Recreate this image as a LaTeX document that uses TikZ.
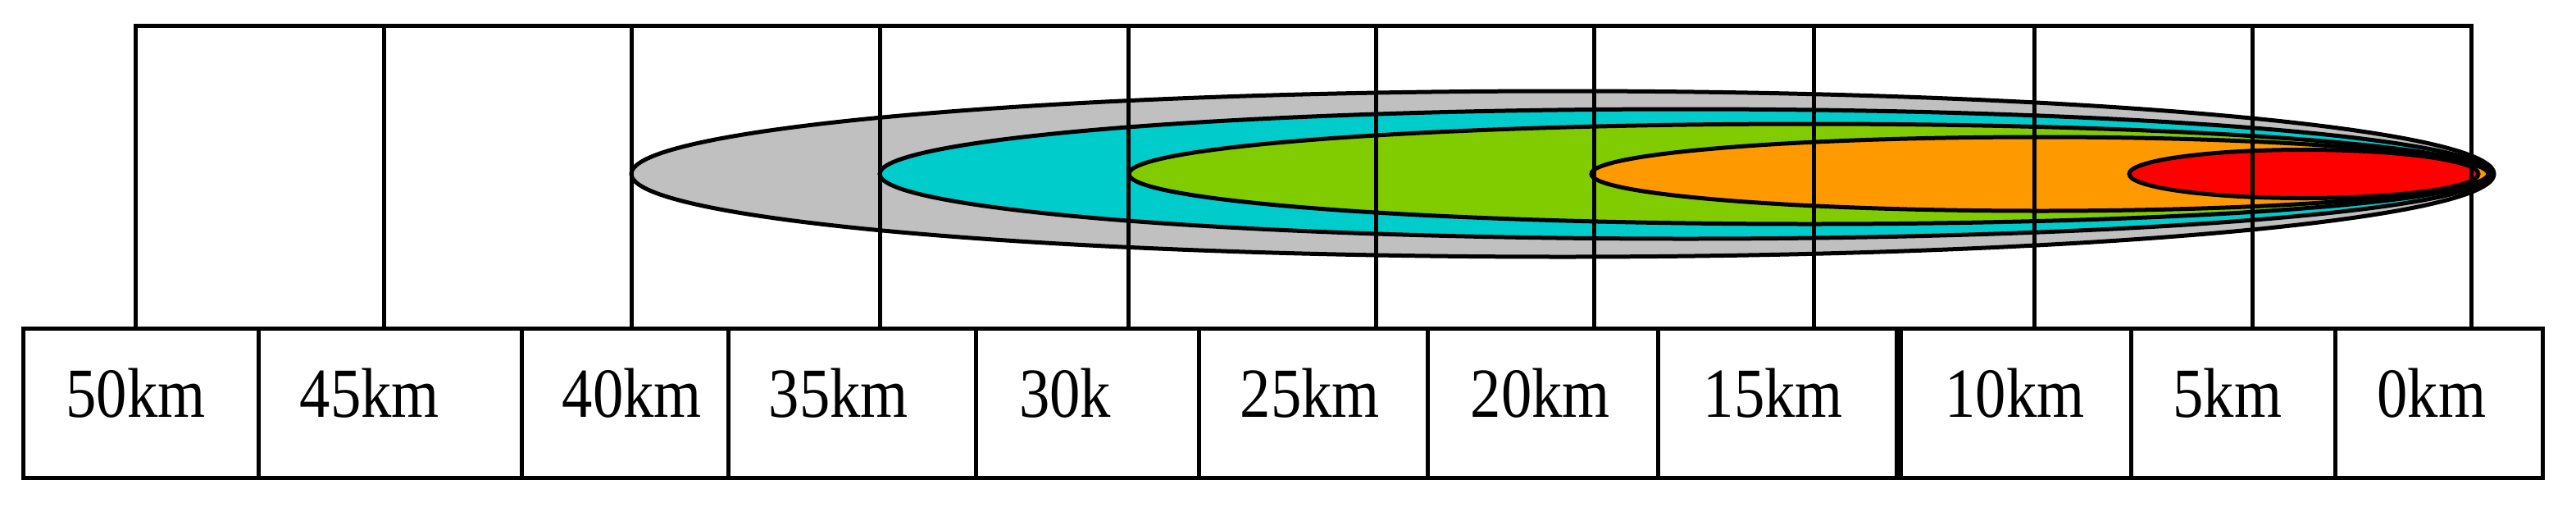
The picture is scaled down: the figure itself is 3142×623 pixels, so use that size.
\documentclass[tikz,border=0pt]{standalone}
\usepackage{fontspec}
\setmainfont{Liberation Serif}
\newcommand\kmlab[1]{\scalebox{0.87}[1]{#1}}
\definecolor{zgray}{HTML}{C0C0C0}
\definecolor{zcyan}{HTML}{00CCCC}
\definecolor{zgreen}{HTML}{80CC00}
\definecolor{zorange}{HTML}{FF9900}
\definecolor{zred}{HTML}{FF0000}
\tikzset{
  zone/.style={draw=black, line width=1.25pt},
  gridline/.style={draw=black, line width=1.25pt},
  lbl/.style={anchor=base, inner sep=0pt, font=\fontsize{21.45pt}{25pt}\selectfont},
}
\begin{document}
\begin{tikzpicture}[x=0.25pt,y=-0.25pt]
\useasboundingbox (0,0) rectangle (3142,623);
% zones
\path[zone, fill=zgray]   (1906,212) ellipse [x radius=1136, y radius=101];
\path[zone, fill=zcyan]   (2056,212) ellipse [x radius=983, y radius=79];
\path[zone, fill=zgreen]  (2207,212) ellipse [x radius=830, y radius=61];
\path[zone, fill=zorange] (2488,212) ellipse [x radius=547, y radius=45];
\path[zone, fill=zred]    (2810,212) ellipse [x radius=213, y radius=29.5];
% upper frame
\coordinate (tl) at (165.6,31);
\coordinate (tr) at (3014,31);
\draw[gridline] (165.6,400.5) -- (tl) -- (tr) -- (3014,400.5);
\foreach \x in {468.6,770.3,1073.3,1376.7,1678.4,1944.2,2212.5,2481.8,2747.7}
  \draw[gridline] (\x,31) -- (\x,400.5);
% scale box
\draw[gridline] (28.5,400.5) rectangle (3101,582.5);
\foreach \x in {315.7,636.3,888.8,1190.8,1462.3,1741.5,2022.1,2599,2848.7}
  \draw[gridline] (\x,400.5) -- (\x,582.5);
\draw[gridline, line width=2.5pt] (2316,400.5) -- (2316,582.5);
% labels
\node[lbl] (l50) at (165.5,508) {\kmlab{50km}};
\node[lbl] (l45) at (451,508) {\kmlab{45km}};
\node[lbl] (l40) at (771,508) {\kmlab{40km}};
\node[lbl] (l35) at (1023,508) {\kmlab{35km}};
\node[lbl] (l30) at (1299,508) {\kmlab{30k}};
\node[lbl] (l25) at (1598,508) {\kmlab{25km}};
\node[lbl] (l20) at (1879,508) {\kmlab{20km}};
\node[lbl] (l15) at (2163,508) {\kmlab{15km}};
\node[lbl] (l10) at (2457.6,508) {\kmlab{10km}};
\node[lbl] (l5) at (2717,508) {\kmlab{5km}};
\node[lbl] (l0) at (2966,508) {\kmlab{0km}};
\end{tikzpicture}
\end{document}
